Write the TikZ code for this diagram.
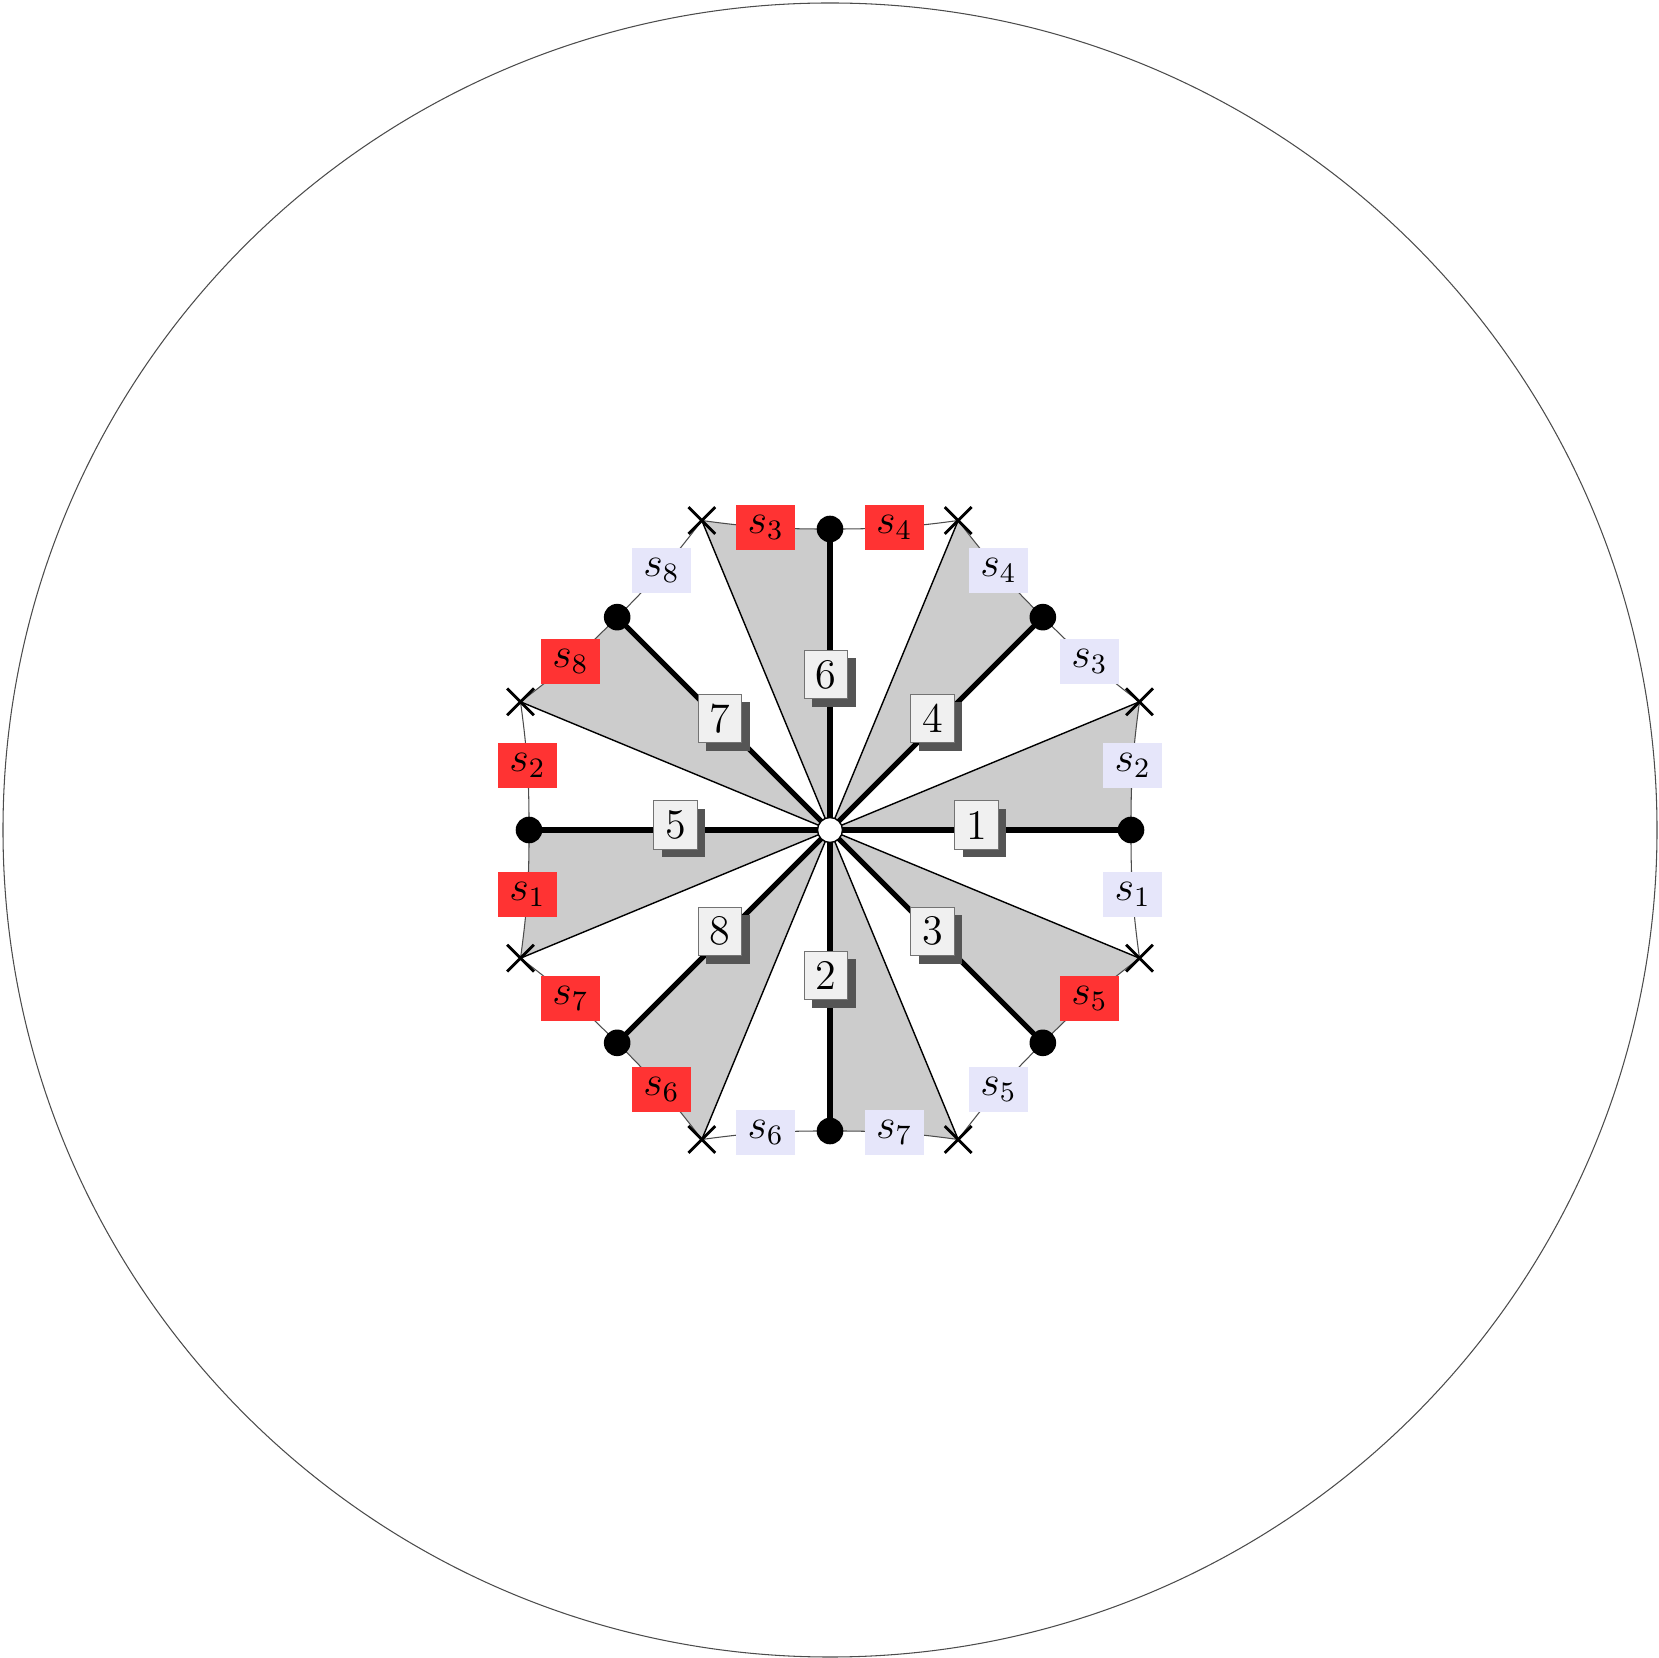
\documentclass[tikz,border=0pt]{standalone}
\usetikzlibrary{shapes.misc,shadows}
\definecolor{sred}{RGB}{255,51,51}
\definecolor{slav}{RGB}{230,230,250}
\definecolor{sectgray}{RGB}{204,204,204}
\definecolor{boxfill}{RGB}{240,240,240}
\definecolor{shadowgray}{RGB}{85,85,85}
\pgfdeclarelayer{bg}
\pgfsetlayers{bg,main}
\tikzset{
 dotnode/.style={circle,fill=black,inner sep=0pt,minimum size=0.266cm},
 crossnode/.style={cross out,draw=black,line width=0.8pt,inner sep=0pt,minimum size=0.24cm},
 centernode/.style={circle,draw=black,fill=white,line width=0.4pt,inner sep=0pt,minimum size=0.25cm},
 numbox/.style={rectangle,draw=black!55,line width=0.3pt,fill=boxfill,text=black,inner sep=0pt,
   minimum width=0.435cm,minimum height=0.485cm,font=\large,
   drop shadow={shadow xshift=0.08cm,shadow yshift=-0.08cm,fill=shadowgray,opacity=1}},
 slabel/.style={rectangle,inner sep=0pt,text=black,minimum width=0.59cm,minimum height=0.455cm,font=\large},
 spoke/.style={line width=1.5pt,black},
 ray/.style={line width=0.4pt,black},
 rim/.style={line width=0.3pt,black!70},
 sector/.style={fill=sectgray},
 outerring/.style={circle,draw=black!70,line width=0.3pt,inner sep=0pt,minimum size=16.54cm},
}
\begin{document}
\begin{tikzpicture}
\useasboundingbox (-8.30,-8.28) rectangle (8.28,8.30);
\node[centernode] (O) at (0,0) {};
\foreach \k in {0,...,7} {
  \node[dotnode] (d\k) at ({45*\k}:3.01cm) {};
  \node[crossnode] (c\k) at ({45*\k+22.5}:3.35cm) {};
}
\begin{pgfonlayer}{bg}
  \node[outerring] (outer) at (0,0) {};
  \foreach \k in {0,...,7} {
    \fill[sector] (O.center) -- (d\k.center) to[bend left=4] (c\k.center) -- cycle;
  }
  \foreach \k in {0,...,7} {
    \draw[ray] (O.center) -- (c\k.center);
  }
  \foreach \k/\n/\sa/\ca/\sb/\cb in {0/1/2/slav/3/slav, 1/2/4/slav/4/sred, 2/3/3/sred/8/slav, 3/4/8/sred/2/sred, 4/5/1/sred/7/sred, 5/6/6/sred/6/slav, 6/7/7/slav/5/slav, 7/0/5/sred/1/slav} {
    \draw[rim] (d\k.center) to[bend left=4] node[slabel,fill=\ca,midway] (sa\k) {$s_{\sa}$} (c\k.center)
      to[bend left=4] node[slabel,fill=\cb,midway] (sb\k) {$s_{\sb}$} (d\n.center);
  }
  \foreach \k/\num in {0/1,1/4,2/6,3/7,4/5,5/8,6/2,7/3} {
    \draw[spoke] (O.center) -- node[numbox,pos=0.5,xshift=-0.038cm,yshift=0.05cm] (n\k) {\num} (d\k.center);
  }
\end{pgfonlayer}
\end{tikzpicture}
\end{document}
